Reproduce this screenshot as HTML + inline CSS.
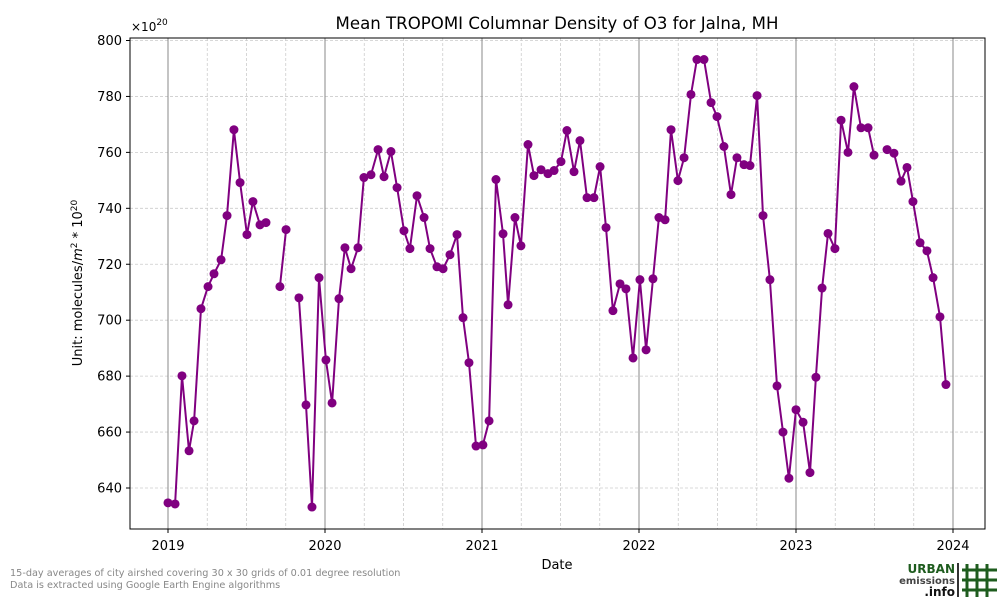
<!DOCTYPE html>
<html><head><meta charset="utf-8"><style>
body{margin:0;background:#fff;font-family:"Liberation Sans","DejaVu Sans",sans-serif;}
svg text{font-family:"DejaVu Sans","Liberation Sans",sans-serif;}
</style></head><body>
<svg id="chart" width="1000" height="600" xmlns="http://www.w3.org/2000/svg">
<rect width="1000" height="600" fill="#fff"/>
<g id="grid"></g>
<g id="series"></g>
<rect x="130" y="38" width="855" height="491" fill="none" stroke="#000" stroke-width="1"/>
<g id="axes"></g>
<text x="557" y="29" font-size="16.6" text-anchor="middle">Mean TROPOMI Columnar Density of O3 for Jalna, MH</text>
<text x="131" y="31" font-size="12">×10<tspan dy="-6" font-size="9">20</tspan></text>
<text x="557" y="569" font-size="13" text-anchor="middle">Date</text>
<text transform="translate(82,283) rotate(-90)" font-size="13" text-anchor="middle">Unit: molecules/<tspan font-style="italic">m</tspan><tspan dy="-5" font-size="9">2</tspan><tspan dy="5"> * 10</tspan><tspan dy="-5" font-size="9">20</tspan></text>
<text x="10" y="576" font-size="9.7" fill="#888">15-day averages of city airshed covering 30 x 30 grids of 0.01 degree resolution</text>
<text x="10" y="588" font-size="9.7" fill="#888">Data is extracted using Google Earth Engine algorithms</text>
<g>
<text x="955" y="573" font-size="12" font-weight="bold" fill="#1e5c1e" text-anchor="end" font-family="Liberation Sans">URBAN</text>
<text x="955" y="584" font-size="10" font-weight="bold" fill="#444" text-anchor="end" font-family="Liberation Sans">emissions</text>
<text x="955" y="596" font-size="12" font-weight="bold" fill="#111" text-anchor="end" font-family="Liberation Sans">.info</text>
<rect x="957" y="563" width="2" height="34" fill="#333"/>
<g stroke="#1e5c1e" stroke-width="3"><line x1="967" y1="564" x2="967" y2="597"/><line x1="977" y1="564" x2="977" y2="597"/><line x1="987" y1="564" x2="987" y2="597"/><line x1="962" y1="570" x2="997" y2="570"/><line x1="962" y1="580" x2="997" y2="580"/><line x1="962" y1="590" x2="997" y2="590"/></g>
</g>
</svg>
<script>
const dates=[2019.000,2019.045,2019.089,2019.134,2019.166,2019.210,2019.255,2019.293,2019.338,2019.376,2019.420,2019.459,2019.503,2019.541,2019.586,2019.624,2019.713,2019.752,2019.834,2019.879,2019.917,2019.962,
2020.006,2020.045,2020.089,2020.127,2020.166,2020.210,2020.248,2020.293,2020.338,2020.376,2020.420,2020.459,2020.503,2020.541,2020.586,2020.631,2020.669,2020.713,2020.752,2020.796,2020.841,2020.879,2020.917,2020.962,
2021.006,2021.045,2021.089,2021.134,2021.166,2021.210,2021.248,2021.293,2021.331,2021.376,2021.420,2021.459,2021.503,2021.541,2021.586,2021.624,2021.669,2021.713,2021.752,2021.790,2021.834,2021.879,2021.917,2021.962,
2022.006,2022.045,2022.089,2022.127,2022.166,2022.204,2022.248,2022.287,2022.331,2022.369,2022.414,2022.459,2022.497,2022.541,2022.586,2022.624,2022.669,2022.707,2022.752,2022.790,2022.834,2022.879,2022.917,2022.955,
2023.000,2023.045,2023.089,2023.127,2023.166,2023.204,2023.248,2023.287,2023.331,2023.369,2023.414,2023.459,2023.497,2023.580,2023.624,2023.669,2023.707,2023.745,2023.790,2023.834,2023.873,2023.917,2023.955];
const values=[634.7,634.3,680.1,653.3,664,704.1,712,716.6,721.6,737.4,768.1,749.2,730.6,742.4,734.1,734.9,712,732.4,708,669.7,633.2,715.2,
685.8,670.4,707.7,725.9,718.4,725.9,751,752,761,751.3,760.3,747.4,732,725.6,744.5,736.7,725.6,719.1,718.4,723.4,730.6,700.9,684.8,655,
655.4,664,750.3,730.9,705.5,736.7,726.6,762.8,751.7,753.8,752.4,753.5,756.7,767.8,753.1,764.2,743.8,743.8,754.9,733.1,703.4,713,711.2,686.5,
714.5,689.4,714.8,736.7,735.9,768.1,749.9,758.1,780.7,793.2,793.2,777.8,772.8,762.1,744.9,758.1,755.6,755.3,780.3,737.4,714.5,676.5,660,643.5,
668,663.5,645.5,679.6,711.5,731,725.6,771.5,760,783.5,768.8,768.8,759,761,759.7,749.7,754.6,742.4,727.7,724.8,715.2,701.2,677];
const yTicks=[640,660,680,700,720,740,760,780,800];
const xTicks=[2019,2020,2021,2022,2023,2024];
const NS='http://www.w3.org/2000/svg';
function xs(d){return 168+(d-2019)*157;}
function ys(v){return 488-(v-640)*(447.5/160);}
function mk(tag,attrs,parent){const e=document.createElementNS(NS,tag);for(const k in attrs)e.setAttribute(k,attrs[k]);parent.appendChild(e);return e;}
const grid=document.getElementById('grid'),axes=document.getElementById('axes'),series=document.getElementById('series');
for(let q=2018.75;q<=2024.25;q+=0.25){const x=xs(q);if(x<130||x>985)continue;if(Math.abs(q-Math.round(q))<1e-6)continue;
 const l=mk('line',{x1:x,x2:x,y1:38,y2:529,stroke:'#ccc','stroke-width':0.8,'stroke-dasharray':'3,2'},grid);
 
 }
yTicks.forEach(v=>{const y=ys(v);
 const g=mk('line',{x1:130,x2:985,y1:y,y2:y,stroke:'#ccc','stroke-width':0.8,'stroke-dasharray':'3,2'},grid);
 
 
 const t=mk('line',{x1:126,x2:130,y1:y,y2:y,stroke:'#000'},axes);
 
 
 const tx=mk('text',{x:122,y:y+4.5,'font-size':13,'text-anchor':'end'},axes);tx.textContent=v;
 
 });
xTicks.forEach(d=>{const x=xs(d);
 const g=mk('line',{x1:x,x2:x,y1:38,y2:529,stroke:'#888','stroke-width':1},grid);
 
 
 const t=mk('line',{x1:x,x2:x,y1:529,y2:533,stroke:'#000'},axes);
 
 
 const tx=mk('text',{x:x,y:550,'font-size':13,'text-anchor':'middle'},axes);tx.textContent=d;
 
 });
let segs=[],cur=[];
for(let i=0;i<dates.length;i++){if(i>0&&dates[i]-dates[i-1]>0.06){segs.push(cur);cur=[];}cur.push(xs(dates[i]).toFixed(1)+','+ys(values[i]).toFixed(1));}
segs.push(cur);
segs.forEach(s=>{const p=mk('polyline',{points:s.join(' '),fill:'none',stroke:'#800080','stroke-width':2},series);
 
 });
for(let i=0;i<dates.length;i++){const c=mk('circle',{cx:xs(dates[i]),cy:ys(values[i]),r:4.5,fill:'#800080'},series);
 
 }
</script>
</body></html>
